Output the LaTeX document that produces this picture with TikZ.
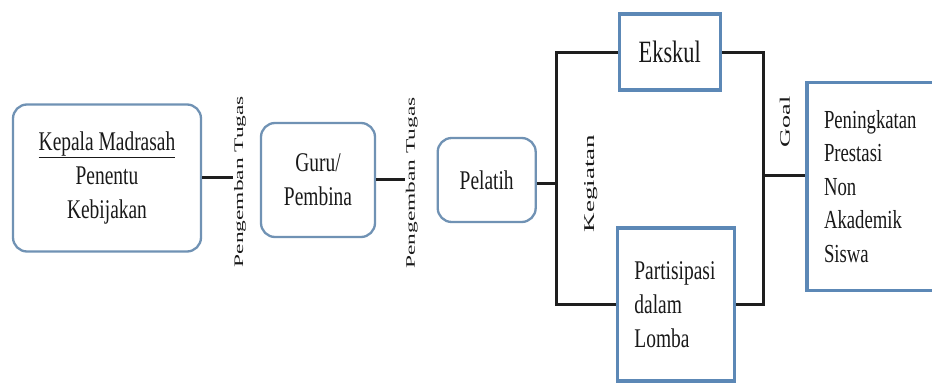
\documentclass[tikz,border=0pt]{standalone}
\usepackage{fontspec}
\setmainfont[FakeStretch=0.72]{Liberation Serif}
\newfontfamily\lblfont[FakeStretch=1.8]{Liberation Serif}
\definecolor{rboxcol}{RGB}{112,146,180}
\definecolor{sboxcol}{RGB}{92,136,182}
\definecolor{linecol}{RGB}{30,30,30}
\definecolor{txtcol}{RGB}{25,25,25}
\tikzset{
  rbox/.style={draw=rboxcol, line width=2.3pt, rounded corners=14pt, fill=white,
    align=center, text=txtcol, inner sep=2pt, font=\fontsize{27}{34}\selectfont},
  sbox/.style={draw=sboxcol, line width=3.4pt, fill=white, align=left, text=txtcol,
    inner ysep=2pt, font=\fontsize{27}{34}\selectfont},
  conn/.style={draw=linecol, line width=3pt},
  lbl/.style={rotate=90, inner sep=1pt, text=txtcol},
}
\begin{document}
\begin{tikzpicture}[x=1pt, y=-1pt]
\useasboundingbox (0,0) rectangle (932,385);
\clip (0,0) rectangle (932,385);
\fill[white] (0,0) rectangle (932,385);

% rounded boxes
\node[rbox, minimum width=188pt, minimum height=147pt] (kepala) at (107,178)
  {\underline{Kepala Madrasah}\\Penentu\\Kebijakan};
\node[rbox, minimum width=114pt, minimum height=114pt] (guru) at (318,180)
  {Guru/\\Pembina};
\node[rbox, minimum width=98pt, minimum height=84pt] (pelatih) at (486.7,180)
  {Pelatih};

% square boxes
\node[sbox, minimum width=101pt, minimum height=76pt, align=center,
  font=\fontsize{31}{34}\selectfont] (ekskul) at (669.7,52.2) {Ekskul};
\node[sbox, text width=83pt, inner xsep=17pt, minimum height=153pt] (partis) at (675.9,304.3)
  {Partisipasi\\dalam\\Lomba};
\node[sbox, text width=104pt, inner xsep=17pt, minimum height=208pt,
  font=\fontsize{26}{33.5}\selectfont] (pening) at (876,186.5)
  {Peningkatan\\Prestasi\\Non\\Akademik\\Siswa};

% rotated labels
\node[lbl, font=\lblfont\fontsize{13}{13}\selectfont] (lab1) at (240,181.7) {Pengemban Tugas};
\node[lbl, font=\lblfont\fontsize{13}{13}\selectfont] (lab2) at (411.7,183) {Pengemban Tugas};
\node[lbl, font=\lblfont\fontsize{15}{15}\selectfont] (keg) at (590.8,183.3) {Kegiatan};
\node[lbl, font=\lblfont\fontsize{14.5}{14.5}\selectfont] (goal) at (785,121.7) {Goal};

% junction coordinates
\coordinate (jl) at (556,183.3);
\coordinate (jr) at (763.3,175.7);

% connectors
\draw[conn] (kepala.east) -- (kepala.east -| lab1.north);
\draw[conn] (guru.east) -- (guru.east -| lab2.north);
\draw[conn] (jl -| pelatih.east) -- (jl);
\draw[conn] (ekskul.west) -- (ekskul.west -| jl) -- (partis.west -| jl) -- (partis.west);
\draw[conn] (ekskul.east) -- (ekskul.east -| jr) -- (partis.east -| jr) -- (partis.east);
\draw[conn] (jr) -- (jr -| pening.west);
\end{tikzpicture}
\end{document}
